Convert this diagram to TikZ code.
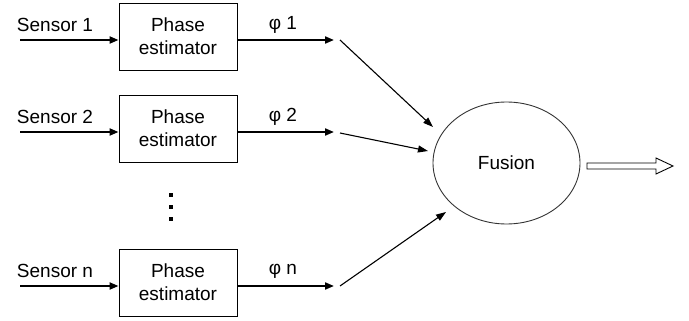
\documentclass[tikz,border=0pt]{standalone}
\usepackage{fontspec}
\setmainfont{Liberation Sans}
\usetikzlibrary{arrows.meta,shapes.geometric}

\tikzset{
  estbox/.style={draw, line width=0.9pt, minimum width=118pt, minimum height=67pt,
                 inner sep=0pt, align=center, font=\fontsize{19}{23}\selectfont},
  lbl/.style={inner sep=0pt, font=\fontsize{19}{22}\selectfont},
  sigarrow/.style={line width=2pt, -{Triangle[length=9pt,width=7pt]}},
  diagarrow/.style={line width=1.1pt, -{Triangle[length=10pt,width=7pt]}},
  dotmark/.style={fill=black, minimum size=3.2pt, inner sep=0pt},
}

\begin{document}
\begin{tikzpicture}[x=1pt,y=-1pt]
  \useasboundingbox (0,0) rectangle (689,321);

  % phase estimator blocks
  \node[estbox] (pe1) at (178,36.5) {Phase\\estimator};
  \node[estbox] (pe2) at (178,128.5) {Phase\\estimator};
  \node[estbox] (pen) at (178,282.5) {Phase\\estimator};

  % sensor inputs
  \coordinate (s1) at (20,40);
  \coordinate (s2) at (20,132);
  \coordinate (sn) at (20,286);
  \node[lbl] (ls1) at (55,25) {Sensor 1};
  \node[lbl] (ls2) at (55,117) {Sensor 2};
  \node[lbl] (lsn) at (55,271) {Sensor n};
  \draw[sigarrow] (s1) -- (pe1.west |- s1);
  \draw[sigarrow] (s2) -- (pe2.west |- s2);
  \draw[sigarrow] (sn) -- (pen.west |- sn);

  % phase outputs
  \coordinate (o1) at (334,40);
  \coordinate (o2) at (334,132);
  \coordinate (on) at (334,286);
  \node[lbl] (phi1) at (283,25) {φ 1};
  \node[lbl] (phi2) at (283,117) {φ 2};
  \node[lbl] (phin) at (283,271) {φ n};
  \draw[sigarrow] (pe1.east |- o1) -- (o1);
  \draw[sigarrow] (pe2.east |- o2) -- (o2);
  \draw[sigarrow] (pen.east |- on) -- (on);

  % vertical ellipsis
  \node[dotmark] (dot1) at (171,195) {};
  \node[dotmark] (dot2) at (171,207) {};
  \node[dotmark] (dot3) at (171,219) {};

  % fusion stage
  \node[ellipse, draw=black!80, line width=0.9pt, minimum width=147pt, minimum height=122pt,
        inner sep=0pt, font=\fontsize{19}{22}\selectfont] (fusion) at (506.5,163) {Fusion};

  \coordinate (d1) at (340,40);
  \coordinate (d2) at (340,133);
  \coordinate (dn) at (340,286);
  \coordinate (t1) at (433,127);
  \coordinate (t2) at (428,151);
  \coordinate (tn) at (446,212);
  \draw[diagarrow] (d1) -- (t1);
  \draw[diagarrow] (d2) -- (t2);
  \draw[diagarrow] (dn) -- (tn);

  % hollow output arrow
  \draw[line width=0.9pt, fill=white]
    (587,163) -- (656,163) -- (656,158) -- (673,166) -- (656,174) -- (656,169) -- (587,169) -- cycle;
\end{tikzpicture}
\end{document}
